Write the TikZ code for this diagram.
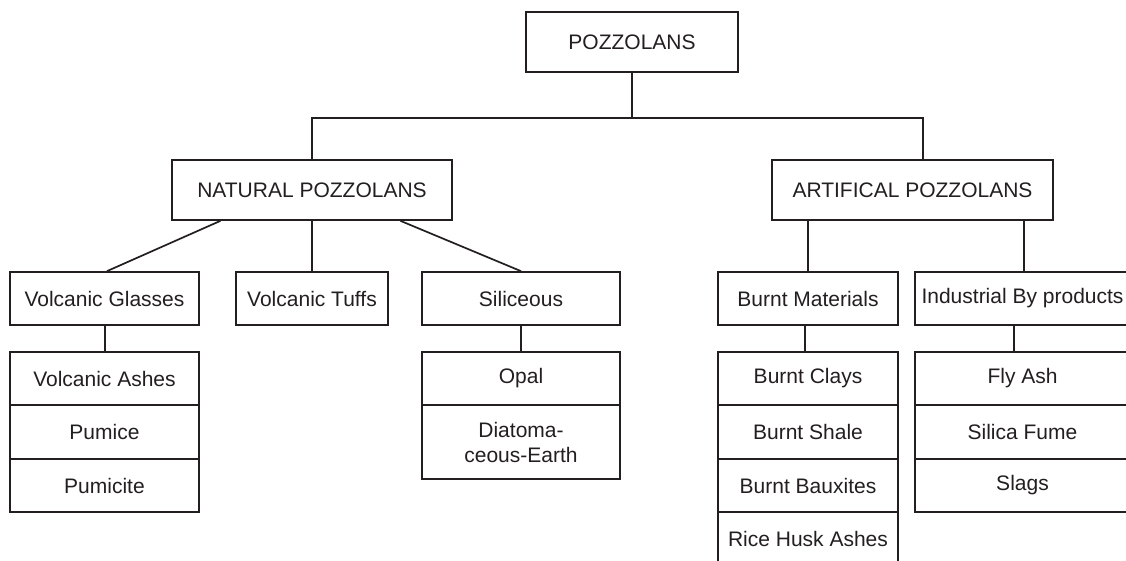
\documentclass[tikz,border=0pt]{standalone}
\usepackage{fontspec}
\setmainfont{Liberation Sans}
\usetikzlibrary{calc}
\definecolor{ink}{HTML}{231F20}
\begin{document}
\begin{tikzpicture}[x=1pt,y=-1pt,
  cell/.style={draw=ink, line width=1.7pt, rectangle, inner sep=0pt, align=center,
    font=\fontsize{21}{25}\selectfont, text=ink},
  conn/.style={draw=ink, line width=1.7pt}]
\clip (0,0) rectangle (1126,561);
\fill[white] (0,0) rectangle (1126,561);
% level 1
\node[cell, minimum width=212pt, minimum height=60pt] (top) at (632,42) {POZZOLANS};
% level 2
\node[cell, minimum width=280pt, minimum height=60pt] (nat) at (312,190) {NATURAL POZZOLANS};
\node[cell, minimum width=281pt, minimum height=60pt] (art) at (912.5,190) {ARTIFICAL POZZOLANS};
% level 3
\node[cell, minimum width=189pt, minimum height=53pt] (vg) at (104.5,298.5) {Volcanic Glasses};
\node[cell, minimum width=151.5pt, minimum height=53pt] (vt) at (312,298.5) {Volcanic Tuffs};
\node[cell, minimum width=197.5pt, minimum height=53pt] (sil) at (521,298.5) {Siliceous};
\node[cell, minimum width=179.5pt, minimum height=53pt] (bm) at (808,298.5) {Burnt Materials};
\node[cell, minimum width=215pt, minimum height=53pt] (ind) at (1022.5,298.5) {Industrial By products};
% level 4: volcanic glasses
\node[cell, minimum width=189pt, minimum height=53pt] (va) at (104.5,378.5) {Volcanic Ashes};
\node[cell, minimum width=189pt, minimum height=54pt] (pu) at (104.5,432) {Pumice};
\node[cell, minimum width=189pt, minimum height=53pt] (pc) at (104.5,485.5) {Pumicite};
% level 4: siliceous
\node[cell, minimum width=197.5pt, minimum height=53pt] (op) at (521,378.5) {Opal};
\node[cell, minimum width=197.5pt, minimum height=74pt] (dia) at (521,442) {Diatoma-\\ceous-Earth};
% level 4: burnt materials
\node[cell, minimum width=179.5pt, minimum height=53pt] (bc) at (808,378.5) {Burnt Clays};
\node[cell, minimum width=179.5pt, minimum height=54pt] (bs) at (808,432) {Burnt Shale};
\node[cell, minimum width=179.5pt, minimum height=53pt] (bb) at (808,485.5) {Burnt Bauxites};
\node[cell, minimum width=179.5pt, minimum height=53pt] (rh) at (808,538.5) {Rice Husk Ashes};
% level 4: industrial by products
\node[cell, minimum width=215pt, minimum height=53pt] (fa) at (1022.5,378.5) {Fly Ash};
\node[cell, minimum width=215pt, minimum height=54pt] (sf) at (1022.5,432) {Silica Fume};
\node[cell, minimum width=215pt, minimum height=53pt] (sl) at (1022.5,485.5) {Slags};
% connectors level 1 -> 2
\draw[conn] (top.south) -- ++(0,45) coordinate (j);
\draw[conn] (nat.north) |- (j);
\draw[conn] ($(art.north west)!0.537!(art.north east)$) |- (j);
% natural -> level 3
\draw[conn] ($(nat.south west)!0.175!(nat.south east)$) -- ($(vg.north west)!0.513!(vg.north east)$);
\draw[conn] (nat.south) -- (vt.north);
\draw[conn] ($(nat.south west)!0.814!(nat.south east)$) -- (sil.north);
% artificial -> level 3
\draw[conn] (bm.north) -- (bm.north |- art.south);
\coordinate (ia) at ($(ind.north west)!0.507!(ind.north east)$);
\draw[conn] (ia) -- (ia |- art.south);
% level 3 -> level 4
\coordinate (va0) at ($(vg.south west)!0.503!(vg.south east)$);
\draw[conn] (va0) -- (va0 |- va.north);
\draw[conn] (sil.south) -- (op.north);
\coordinate (ba) at ($(bm.south west)!0.485!(bm.south east)$);
\draw[conn] (ba) -- (ba |- bc.north);
\coordinate (ib) at ($(ind.south west)!0.46!(ind.south east)$);
\draw[conn] (ib) -- (ib |- fa.north);
\end{tikzpicture}
\end{document}
